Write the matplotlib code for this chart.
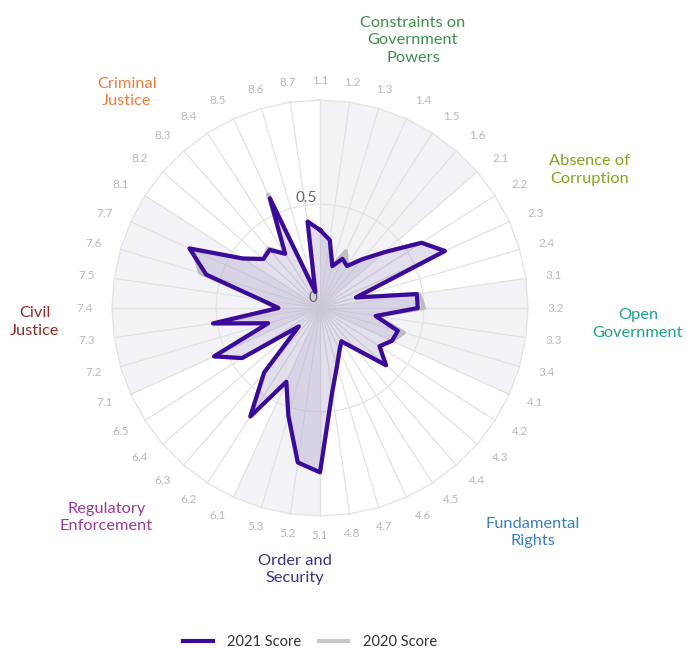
import numpy as np
import matplotlib.pyplot as plt
from matplotlib.lines import Line2D

plt.rcParams['font.family'] = ['Lato', 'DejaVu Sans']

# sub-factor labels, clockwise from the top
sub_factors = ["1.1", "1.2", "1.3", "1.4", "1.5", "1.6",
               "2.1", "2.2", "2.3", "2.4",
               "3.1", "3.2", "3.3", "3.4",
               "4.1", "4.2", "4.3", "4.4", "4.5", "4.6", "4.7", "4.8",
               "5.1", "5.2", "5.3",
               "6.1", "6.2", "6.3", "6.4", "6.5",
               "7.1", "7.2", "7.3", "7.4", "7.5", "7.6", "7.7",
               "8.1", "8.2", "8.3", "8.4", "8.5", "8.6", "8.7"]

score_2021 = [0.375, 0.33, 0.21, 0.26, 0.24, 0.31,
              0.41, 0.58, 0.66, 0.18,
              0.47, 0.47, 0.27, 0.39,
              0.38, 0.34, 0.42, 0.26, 0.19, 0.225, 0.29, 0.41,
              0.79, 0.75, 0.54,
              0.39, 0.62, 0.41, 0.135, 0.445,
              0.56, 0.26, 0.52, 0.20, 0.29, 0.57, 0.69,
              0.44, 0.36, 0.37, 0.31, 0.58, 0.08, 0.42]

score_2020 = [0.375, 0.33, 0.21, 0.30, 0.24, 0.31,
              0.41, 0.58, 0.66, 0.18,
              0.48, 0.50, 0.27, 0.42,
              0.38, 0.34, 0.42, 0.26, 0.19, 0.225, 0.29, 0.41,
              0.79, 0.75, 0.54,
              0.39, 0.62, 0.41, 0.135, 0.445,
              0.56, 0.26, 0.52, 0.20, 0.29, 0.60, 0.67,
              0.44, 0.36, 0.38, 0.31, 0.60, 0.08, 0.42]

factor_names = ["Constraints on\nGovernment\nPowers", "Absence of\nCorruption",
                "Open\nGovernment", "Fundamental\nRights", "Order and\nSecurity",
                "Regulatory\nEnforcement", "Civil\nJustice", "Criminal\nJustice"]
factor_colors = ["#3f8e50", "#80a51f", "#1ea38a", "#3b7fc4",
                 "#3e2f7e", "#9b3b9b", "#8b2b2b", "#ee7d3b"]
factor_start = [0, 6, 10, 14, 22, 25, 30, 37]
# label positions in figure fraction
factor_pos = [(0.602, 0.938), (0.859, 0.738), (0.930, 0.501), (0.777, 0.180),
              (0.430, 0.123), (0.155, 0.203), (0.051, 0.504), (0.185, 0.857)]

n = len(sub_factors)
theta = np.arange(n) * 2 * np.pi / n
theta_closed = np.append(theta, theta[0])

fig = plt.figure(figsize=(6.86, 6.49), dpi=100)
ax = fig.add_axes([0.1633, 0.2049, 0.6064, 0.641], projection='polar')
ax.set_theta_zero_location('N')
ax.set_theta_direction(-1)
ax.set_ylim(0, 1)
ax.grid(False)
ax.spines['polar'].set_visible(False)
ax.set_xticks([])
ax.set_yticks([])

# shaded wedges for every other factor
band_color = "#f3f2f6"
for k in range(0, 8, 2):
    a = factor_start[k]
    b = factor_start[k + 1] if k + 1 < 8 else n
    th = np.concatenate([[0], theta[a:b + 1] if b < n else np.append(theta[a:], 2 * np.pi)])
    rr = np.concatenate([[0], np.ones(len(th) - 1)])
    ax.fill(th, rr, color=band_color, lw=0, zorder=0)

# polygonal grid
grid_color = "#e2e2e2"
for r in [0.5, 1.0]:
    ax.plot(theta_closed, [r] * (n + 1), color=grid_color, lw=0.9, zorder=1, clip_on=False)
for t in theta:
    ax.plot([t, t], [0, 1], color=grid_color, lw=0.9, zorder=1, clip_on=False)

# scores
s20 = np.append(score_2020, score_2020[0])
s21 = np.append(score_2021, score_2021[0])
ax.fill(theta_closed, s20, color="#b0b0b0", alpha=0.12, lw=0, zorder=2)
ax.fill(theta_closed, s21, color="#5a3aa8", alpha=0.12, lw=0, zorder=3)
ax.plot(theta_closed, s20, color="#bdbdbd", lw=3, solid_joinstyle='round', zorder=4)
ax.plot(theta_closed, s21, color="#3c0a9b", lw=3, solid_joinstyle='round', zorder=5)

# sub-factor labels
for t, lab in zip(theta, sub_factors):
    s = np.sin(t)
    if abs(s) < 0.35:
        ha = 'center'
    elif s > 0:
        ha = 'left'
    else:
        ha = 'right'
    ax.text(t, 1.095, lab, ha=ha, va='center', fontsize=8.5, color="#b8b8b8")

# radial axis labels
ax.text(-0.03, 0.53, "0.5", ha='right', va='center', fontsize=11, color="#666666")
ax.text(-0.25, 0.05, "0", ha='right', va='center', fontsize=11, color="#666666")

# factor names
for name, col, (x, y) in zip(factor_names, factor_colors, factor_pos):
    fig.text(x, y, name, ha='center', va='center', fontsize=11.8, color=col,
             linespacing=1.3)

handles = [Line2D([], [], color="#3c0a9b", lw=3),
           Line2D([], [], color="#c8c8c8", lw=3)]
fig.legend(handles, ["2021 Score", "2020 Score"], loc='center',
           bbox_to_anchor=(0.452, 0.011), ncol=2, frameon=False,
           fontsize=10.5, labelcolor="#333333", handlelength=2.0,
           columnspacing=1.2, handletextpad=1.0)

fig.savefig("out.png", dpi=100)
